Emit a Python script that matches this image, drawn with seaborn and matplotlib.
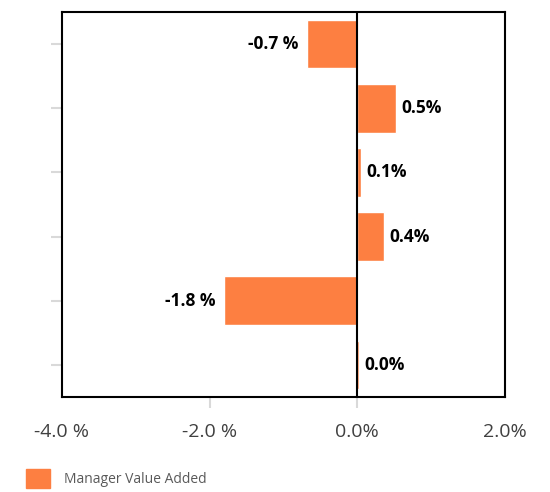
import matplotlib
matplotlib.use('Agg')
import matplotlib.pyplot as plt
import matplotlib.patches as mpatches
import pandas as pd
import seaborn as sns

# data
categories = ['1', '2', '3', '4', '5', '6']
values = [-0.68, 0.52, 0.05, 0.36, -1.81, 0.02]
value_labels = ['-0.7 %', '0.5%', '0.1%', '0.4%', '-1.8 %', '0.0%']
x_ticks = [-4, -2, 0, 2]
x_tick_labels = ['-4.0 %', '-2.0 %', '0.0%', '2.0%']
series_name = 'Manager Value Added'

bar_color = '#FD7F41'

sns.set_theme(style='white')
plt.rcParams['font.family'] = ['Open Sans', 'DejaVu Sans']

df = pd.DataFrame({'cat': categories, 'val': values})

fig = plt.figure(figsize=(5.5, 4.92), dpi=100)
ax = fig.add_axes([62 / 550, 1 - 397 / 492, (505 - 62) / 550, (397 - 12) / 492])

sns.barplot(data=df, x='val', y='cat', orient='h', color=bar_color,
            saturation=1, width=0.76, ax=ax)

ax.set_xlim(-4, 2)
ax.axvline(0, color='black', lw=1.5, zorder=3)

# value labels
for i, (v, lab) in enumerate(zip(values, value_labels)):
    if v < 0:
        ax.annotate(lab, (v, i), xytext=(-6, 0), textcoords='offset points',
                    ha='right', va='center', fontsize=12.5, fontweight='bold', color='black')
    else:
        ax.annotate(lab, (v, i), xytext=(4, 0), textcoords='offset points',
                    ha='left', va='center', fontsize=12.5, fontweight='bold', color='black')

ax.set_xticks(x_ticks)
ax.set_xticklabels(x_tick_labels, fontsize=14, color='#404040')
ax.set_yticklabels([''] * len(categories))
ax.set_xlabel('')
ax.set_ylabel('')
ax.tick_params(axis='both', which='major', direction='out', length=8, width=1.5,
               color='#d9d9d9', left=True, bottom=True)
ax.tick_params(axis='x', pad=11)
xt = ax.xaxis.get_major_ticks()
xt[0].tick1line.set_visible(False)
xt[-1].tick1line.set_visible(False)

for s in ax.spines.values():
    s.set_color('black')
    s.set_linewidth(1.5)
    s.set_visible(True)

handle = mpatches.Patch(color=bar_color, label=series_name)
fig.legend(handles=[handle], loc='lower left', bbox_to_anchor=(26 / 550, 4 / 492),
           frameon=False, fontsize=10, handlelength=1.75, handleheight=1.75,
           handletextpad=1.0, borderpad=0, borderaxespad=0, labelcolor='#595959')

fig.savefig('out.png', dpi=100)
